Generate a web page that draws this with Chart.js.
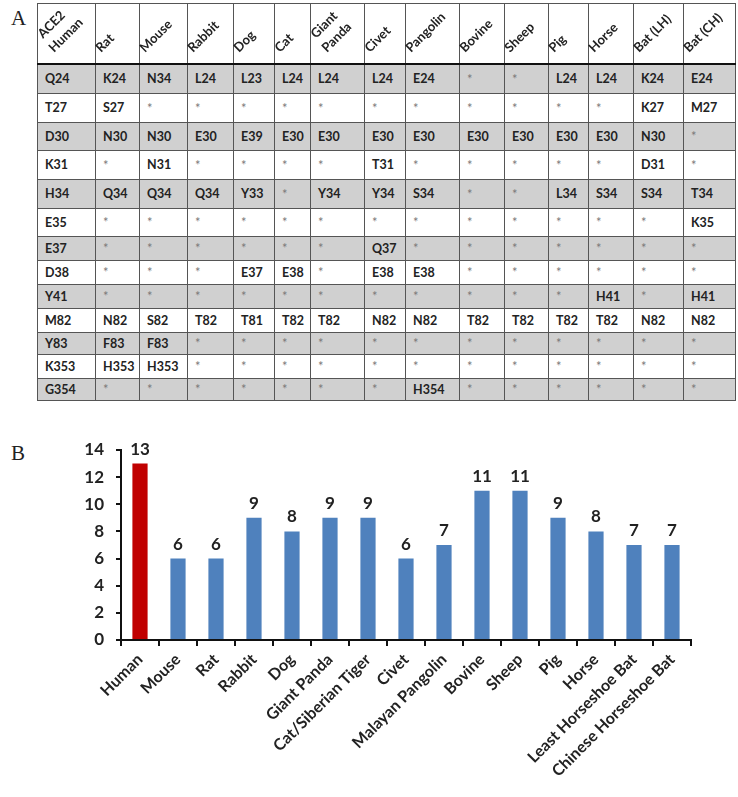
<!DOCTYPE html>
<html>
<head>
<meta charset="utf-8">
<script src="https://cdn.jsdelivr.net/npm/chart.js@4"></script>
<style>
  body { margin: 0; width: 738px; height: 797px; background: #fff; position: relative; overflow: hidden; font-family: Lato, sans-serif; }
  .panel { position: absolute; font-family: "Liberation Serif", serif; font-size: 21px; color: #222; }
  #tbl { position: absolute; left: 37px; top: 3px; border-collapse: collapse; table-layout: fixed; font-weight: bold; font-size: 12.5px; color: #222; }
  #tbl td, #tbl th { border: 1px solid #555; padding: 0 0 0 7px; text-align: left; white-space: nowrap; overflow: hidden; }
  #tbl th { height: 59px; border-bottom: 2px solid #111; }
  #tbl tr.g td { background: #d0d0d0; }
  #tbl td.star { color: #7a7a7a; font-weight: normal; font-size: 13px; }
  #head { position: absolute; left: 37px; top: 3px; }
  #wrap { position: absolute; left: 0; top: 420px; width: 738px; height: 377px; }
</style>
</head>
<body>
<div class="panel" style="left:11px;top:6px;">A</div>
<div class="panel" style="left:11px;top:441px;">B</div>
<table id="tbl"></table>
<canvas id="head" width="700" height="60"></canvas>
<div id="wrap"><canvas id="chart"></canvas></div>
<script>
// table (panel A)
const tableHeaders = [["ACE2", "Human"], ["Rat"], ["Mouse"], ["Rabbit"], ["Dog"], ["Cat"], ["Giant", "Panda"],
  ["Civet"], ["Pangolin"], ["Bovine"], ["Sheep"], ["Pig"], ["Horse"], ["Bat (LH)"], ["Bat (CH)"]];
const colWidths = [58, 44, 48, 46, 41, 36, 54, 41, 54, 45, 44, 40, 45, 50, 52];
const rowHeights = [29, 29, 28, 29, 29, 28, 24, 24, 24, 24, 22, 24, 22];
const tableRows = [
  ["Q24", "K24", "N34", "L24", "L23", "L24", "L24", "L24", "E24", "*", "*", "L24", "L24", "K24", "E24"],
  ["T27", "S27", "*", "*", "*", "*", "*", "*", "*", "*", "*", "*", "*", "K27", "M27"],
  ["D30", "N30", "N30", "E30", "E39", "E30", "E30", "E30", "E30", "E30", "E30", "E30", "E30", "N30", "*"],
  ["K31", "*", "N31", "*", "*", "*", "*", "T31", "*", "*", "*", "*", "*", "D31", "*"],
  ["H34", "Q34", "Q34", "Q34", "Y33", "*", "Y34", "Y34", "S34", "*", "*", "L34", "S34", "S34", "T34"],
  ["E35", "*", "*", "*", "*", "*", "*", "*", "*", "*", "*", "*", "*", "*", "K35"],
  ["E37", "*", "*", "*", "*", "*", "*", "Q37", "*", "*", "*", "*", "*", "*", "*"],
  ["D38", "*", "*", "*", "E37", "E38", "*", "E38", "E38", "*", "*", "*", "*", "*", "*"],
  ["Y41", "*", "*", "*", "*", "*", "*", "*", "*", "*", "*", "*", "H41", "*", "H41"],
  ["M82", "N82", "S82", "T82", "T81", "T82", "T82", "N82", "N82", "T82", "T82", "T82", "T82", "N82", "N82"],
  ["Y83", "F83", "F83", "*", "*", "*", "*", "*", "*", "*", "*", "*", "*", "*", "*"],
  ["K353", "H353", "H353", "*", "*", "*", "*", "*", "*", "*", "*", "*", "*", "*", "*"],
  ["G354", "*", "*", "*", "*", "*", "*", "*", "H354", "*", "*", "*", "*", "*", "*"],
];

let html = "<colgroup>" + colWidths.map((w) => `<col style="width:${w}px">`).join("") + "</colgroup>";
html += "<tr>" + tableHeaders.map(() => "<th></th>").join("") + "</tr>";
tableRows.forEach((row, i) => {
  html += `<tr class="${i % 2 === 0 ? "g" : ""}" style="height:${rowHeights[i]}px">`;
  row.forEach((c) => {
    html += `<td class="${c === "*" ? "star" : ""}">${c}</td>`;
  });
  html += "</tr>";
});
document.getElementById("tbl").innerHTML = html;

// rotated header labels, drawn on a small canvas
function drawHeaders() {
  const hctx = document.getElementById("head").getContext("2d");
  hctx.font = "bold 13px Lato";
  hctx.fillStyle = "#222";
  let colLeft = 0;
  tableHeaders.forEach((lines, i) => {
    const n = lines.length;
    lines.forEach((t, k) => {
      const x = colLeft + 6 + (n > 1 && k === 1 ? 11 : 0);
      const y = n > 1 ? (k === 0 ? 36 : 50) : 50;
      hctx.save();
      hctx.translate(x, y);
      hctx.rotate(-Math.PI / 4);
      hctx.fillText(t, 0, 0);
      hctx.restore();
    });
    colLeft += colWidths[i];
  });
}
drawHeaders();
if (document.fonts) document.fonts.ready.then(() => {
  const c = document.getElementById("head");
  c.getContext("2d").clearRect(0, 0, c.width, c.height);
  drawHeaders();
});

// chart (panel B)
const species = ["Human", "Mouse", "Rat", "Rabbit", "Dog", "Giant Panda", "Cat/Siberian Tiger", "Civet",
  "Malayan Pangolin", "Bovine", "Sheep", "Pig", "Horse", "Least Horseshoe Bat", "Chinese Horseshoe Bat"];
const counts = [13, 6, 6, 9, 8, 9, 9, 6, 7, 11, 11, 9, 8, 7, 7];
const barColors = counts.map((v, i) => (i === 0 ? "#C00000" : "#4F81BD"));

const valueLabels = {
  id: "valueLabels",
  afterDatasetsDraw(chart) {
    const ctx = chart.ctx;
    const meta = chart.getDatasetMeta(0);
    ctx.save();
    ctx.font = "bold 17px Lato";
    ctx.fillStyle = "#222";
    ctx.textAlign = "center";
    ctx.textBaseline = "bottom";
    meta.data.forEach((bar, i) => {
      ctx.fillText(counts[i], bar.x, bar.y - 6);
    });
    ctx.restore();
  },
};

new Chart(document.getElementById("chart").getContext("2d"), {
  type: "bar",
  data: {
    labels: species,
    datasets: [
      {
        data: counts,
        backgroundColor: barColors,
        barPercentage: 0.4,
        categoryPercentage: 1,
      },
    ],
  },
  options: {
    responsive: true,
    maintainAspectRatio: false,
    animation: false,
    layout: { padding: { top: 30, left: 0, right: 47, bottom: 0 } },
    plugins: { legend: { display: false }, tooltip: { enabled: false } },
    scales: {
      x: {
        grid: { drawOnChartArea: false, color: "#111", lineWidth: 2, tickLength: 6, offset: true },
        border: { color: "#111", width: 2 },
        ticks: {
          color: "#222",
          font: { family: "Lato", size: 16, weight: "bold" },
          minRotation: 45,
          maxRotation: 45,
          autoSkip: false,
          padding: 4,
        },
        afterFit(scale) {
          scale.height = 157;
          scale.paddingLeft = 0;
          scale.paddingRight = 0;
        },
      },
      y: {
        min: 0,
        max: 14,
        grid: { drawOnChartArea: false, color: "#111", lineWidth: 2, tickLength: 5 },
        border: { color: "#111", width: 2 },
        ticks: {
          stepSize: 2,
          color: "#222",
          padding: 12,
          font: { family: "Lato", size: 17, weight: "bold" },
        },
        afterFit(scale) {
          scale.width = 121;
        },
      },
    },
  },
  plugins: [valueLabels],
});
</script>
</body>
</html>
